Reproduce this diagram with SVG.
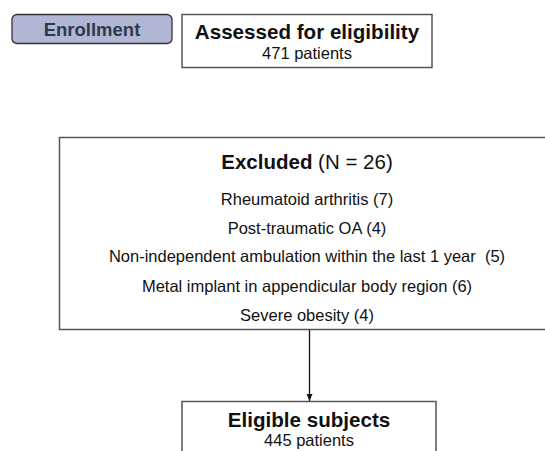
<svg xmlns="http://www.w3.org/2000/svg" width="545" height="451" viewBox="0 0 545 451">
<defs>
<marker id="ah" markerWidth="8" markerHeight="8" refX="7" refY="4" orient="auto" markerUnits="userSpaceOnUse">
<path d="M0,1 L7,4 L0,7 z" fill="#111"/>
</marker>
<style>
text{font-family:"Liberation Sans",Arial,sans-serif;fill:#111;text-anchor:middle}
.box{fill:#fff;stroke:#555;stroke-width:1.5}
.t{font-size:20.6px;font-weight:bold}
.s{font-size:16.5px}
</style>
</defs>
<rect width="545" height="451" fill="#fff"/>
<g id="enrollment">
<rect x="12" y="14.5" width="160" height="29" rx="5" fill="#b1b6d5" stroke="#333" stroke-width="1.3"/>
<text x="92" y="36" style="font-size:18.5px;font-weight:bold;fill:#2e3a4c">Enrollment</text>
</g>
<g id="assessed">
<rect class="box" x="182" y="14.5" width="250" height="53"/>
<text class="t" x="307" y="39">Assessed for eligibility</text>
<text class="s" x="307" y="59">471 patients</text>
</g>
<g id="excluded">
<rect class="box" x="59.5" y="137.5" width="500" height="192"/>
<text x="307" y="169" style="font-size:20.5px"><tspan font-weight="bold">Excluded</tspan> (N = 26)</text>
<text class="s" x="307" y="205">Rheumatoid arthritis (7)</text>
<text class="s" x="307" y="234">Post-traumatic OA (4)</text>
<text class="s" x="307" y="262" xml:space="preserve">Non-independent ambulation within the last 1 year  (5)</text>
<text class="s" x="307" y="292">Metal implant in appendicular body region (6)</text>
<text class="s" x="307" y="321">Severe obesity (4)</text>
</g>
<g id="eligible">
<rect class="box" x="182" y="401.5" width="254" height="60"/>
<text class="t" x="309" y="427">Eligible subjects</text>
<text class="s" x="309" y="446">445 patients</text>
</g>
<g id="connectors">
<line x1="309.5" y1="330" x2="309.5" y2="401" stroke="#111" stroke-width="1.3" marker-end="url(#ah)"/>
</g>
</svg>
